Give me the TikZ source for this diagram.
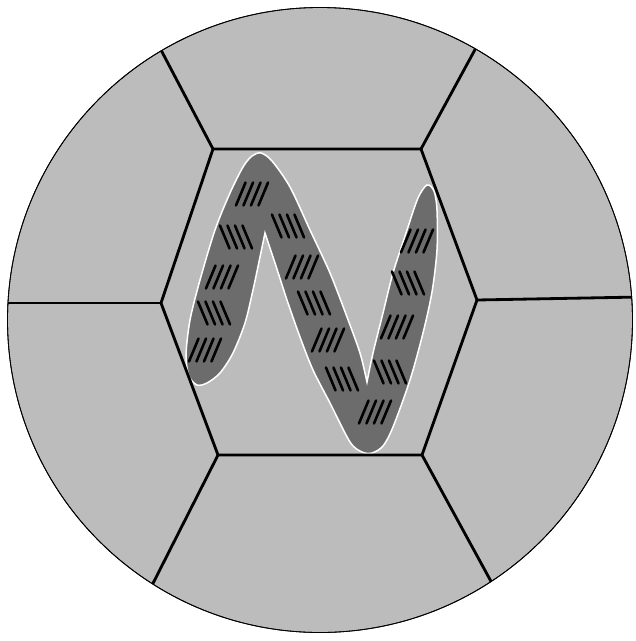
\documentclass[tikz,border=0pt]{standalone}
\usetikzlibrary{calc}

\begin{document}
\begin{tikzpicture}[
    x=0.03cm, y=-0.03cm,
    cellfill/.style={fill=cellgray,draw=black,line width=0.7pt},
    wall/.style={draw=black,line width=2.4pt,line join=miter},
    band/.style={fill=bandgray,draw=white,line width=1.3pt},
    hatchline/.style={draw=black,line width=2.2pt,line cap=round},
]

\definecolor{cellgray}{RGB}{188,188,188}
\definecolor{bandgray}{RGB}{108,108,108}

\useasboundingbox (0,0) rectangle (635,641);

% ---------- outer disc ----------
\coordinate (ctr) at (320,320);
\fill[cellfill] (ctr) circle [radius=312.5];

% ---------- N-shaped band inside the central cell ----------
\path[band]
  plot[smooth,tension=0.5] coordinates {(265,233) (260,257) (253,290) (245,323) (233,353) (220,373) (207,383) (197,385) (189,376) (186,355) (190,320) (200,280) (215,230) (230,193) (243,167) (252,156) (261,153) (272,161) (290,187) (310,230) (330,273) (347,317) (360,353) (367,382)}
  -- plot[smooth,tension=0.5] coordinates {(367,382) (373,353) (383,313) (393,273) (407,230) (418,198) (427,185) (434,191) (437,210) (437,250) (432,292) (423,333) (410,380) (393,427) (383,446) (372,453) (362,452) (350,442) (330,403) (313,370) (300,337) (287,300) (275,263) (265,233)}
  -- cycle;

% ---------- hatch groups: x/y/slant (1 = /, -1 = \) ----------
\foreach \gx/\gy/\s in {252/194/1, 236/237/-1, 222/277/1, 214/313/-1, 205/350/1,
                        288/226/-1, 302/267/1, 314/303/-1, 328/340/1, 342/379/-1, 375/412/1,
                        390/372/-1, 397/327/1, 408/283/-1, 417/241/1}{
  \foreach \k in {-1.5,-0.5,0.5,1.5}{
    \draw[hatchline] ({\gx+7.5*\k-4.8*\s},{\gy+11.5}) -- ({\gx+7.5*\k+4.8*\s},{\gy-11.5});
  }
}

% ---------- central hexagon ----------
\coordinate (hexA) at (213,149);
\coordinate (hexB) at (421,149);
\coordinate (hexC) at (477,300);
\coordinate (hexD) at (422,455);
\coordinate (hexE) at (218,455);
\coordinate (hexF) at (161,303);
\draw[wall] (hexA) -- (hexB) -- (hexC) -- (hexD) -- (hexE) -- (hexF) -- cycle;

% ---------- spokes out to the rim ----------
\coordinate (rimA) at (150,29);
\coordinate (rimB) at (490,22);
\coordinate (rimC) at (640,297);
\coordinate (rimD) at (505,607);
\coordinate (rimE) at (140,609);
\coordinate (rimF) at (0,303);
\begin{scope}
  \clip (ctr) circle [radius=312.5];
  \foreach \v in {A,B,C,D,E,F}
    \draw[wall] (hex\v) -- (rim\v);
\end{scope}
\draw[black,line width=0.7pt] (ctr) circle [radius=312.5];

\end{tikzpicture}
\end{document}
